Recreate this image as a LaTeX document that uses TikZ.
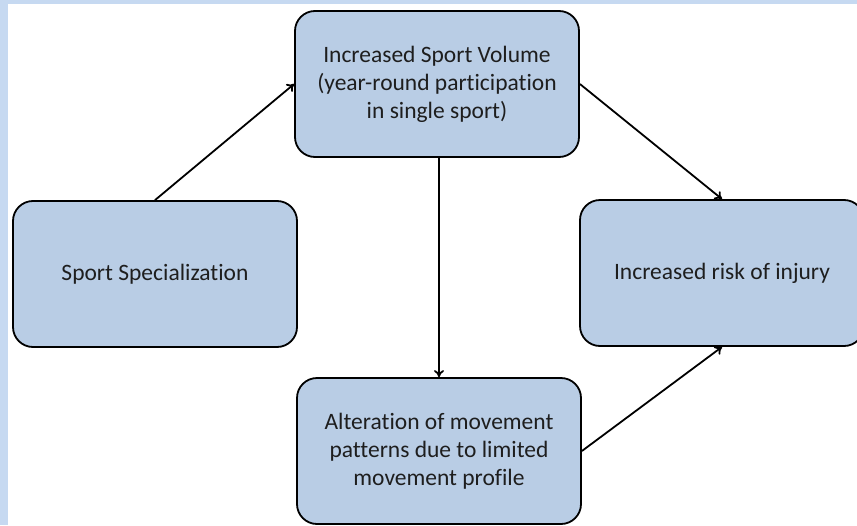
\documentclass[tikz,border=0pt]{standalone}
\usepackage{fontspec}
\setmainfont{Carlito}[Ligatures=NoCommon]
\usetikzlibrary{arrows.meta}
\definecolor{framebl}{HTML}{C6D9F1}
\definecolor{boxbl}{HTML}{B9CDE5}
\definecolor{txtgr}{HTML}{1E1E1E}
\tikzset{
  stagebox/.style={draw=black, line width=1.8pt, rounded corners=20pt, fill=boxbl, text=txtgr,
    minimum width=284pt, minimum height=146pt, align=center, font=\fontsize{23.5}{28}\selectfont},
  flowarrow/.style={-{To[length=7pt,width=10pt]}, line width=1.8pt, black}
}
\begin{document}
\begin{tikzpicture}[x=1pt,y=-1pt]
\useasboundingbox (0,0) rectangle (857,525);
\fill[framebl] (0,0) rectangle (857,525);
\fill[white] (8,4) rectangle (857,525);

\node [stagebox] (volume) at (437,84) {Increased Sport Volume\\(year-round participation\\in single sport)};
\node [stagebox] (spec) at (155,274) {Sport Specialization};
\node [stagebox] (injury) at (722,273) {Increased risk of injury};
\node [stagebox] (alter) at (439,451) {Alteration of movement\\patterns due to limited\\movement profile};

\draw [flowarrow] (spec.north) -- (volume.west);
\draw [flowarrow] (volume.east) -- (injury.north);
\draw [flowarrow] (volume.south -| alter.north) -- (alter.north);
\draw [flowarrow] (alter.east) -- (injury.south);

\end{tikzpicture}
\end{document}
